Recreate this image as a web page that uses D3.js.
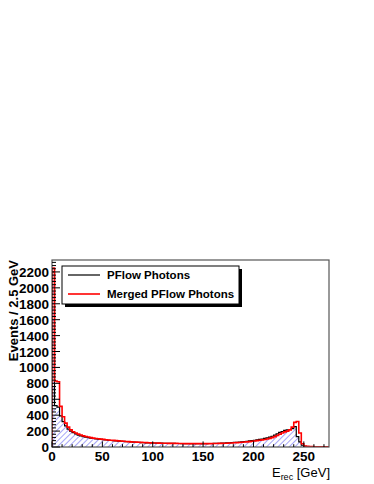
<!DOCTYPE html>
<html>
  <head>
    <meta charset="utf-8">
    <title></title>
    <style>
      body {
        margin: 0;
        background: #fff;
        font-family: "Liberation Sans", Arial, sans-serif;
      }
      svg {
        display: block;
      }
      .lbl {
        font-size: 13.5px;
        font-weight: bold;
      }
    </style>
  </head>
  <body>
    <div class="chart"></div>
    <script src="https://cdn.jsdelivr.net/npm/d3@7"></script>
    <script>

      // 2.5 GeV bins from 0 to 275 GeV
      let binWidth = 2.5;

      let pflowPhotons = [
        2200, 520, 500, 390, 320, 265, 225, 200, 180, 165,
        150, 140, 130, 124, 118, 112, 107, 102, 98, 95,
        92, 88, 85, 82, 80, 77, 74, 72, 70, 68,
        66, 63, 61, 60, 58, 56, 55, 53, 52, 51,
        50, 49, 48, 48, 47, 46, 46, 45, 45, 44,
        44, 43, 44, 43, 42, 43, 42, 42, 43, 42,
        43, 43, 44, 44, 45, 46, 47, 48, 50, 51,
        53, 55, 57, 60, 62, 65, 68, 72, 76, 80,
        85, 90, 95, 100, 108, 115, 125, 135, 150, 165,
        185, 195, 210, 215, 220, 230, 255, 130, 65, 22,
        8, 4, 3, 2, 2, 1, 1, 1, 0, 0
      ];

      let mergedPhotons = [
        2250, 830, 820, 510, 380, 300, 250, 215, 192, 176,
        162, 150, 140, 132, 125, 118, 112, 107, 103, 99,
        96, 92, 88, 85, 83, 80, 77, 75, 72, 70,
        68, 65, 63, 61, 60, 58, 56, 55, 53, 52,
        51, 50, 49, 48, 48, 47, 46, 46, 45, 45,
        44, 44, 43, 43, 43, 42, 42, 42, 42, 42,
        42, 42, 43, 43, 44, 44, 45, 46, 47, 48,
        50, 51, 53, 55, 57, 59, 62, 65, 68, 72,
        76, 80, 84, 89, 95, 101, 108, 118, 130, 145,
        160, 175, 190, 200, 215, 250, 310, 320, 175, 40,
        12, 8, 6, 5, 4, 3, 3, 2, 2, 2
      ];

      let legendLabels = ["PFlow Photons", "Merged PFlow Photons"];
      let xTicks = [0, 50, 100, 150, 200, 250];
      let yTicks = [0, 200, 400, 600, 800, 1000, 1200, 1400, 1600, 1800, 2000, 2200];

      let W = 374, H = 484;
      let frame = {left: 52, right: 329, top: 260, bottom: 447};

      let svg = d3.select('.chart').append('svg')
        .attr('width', W)
        .attr('height', H);

      let x = d3.scaleLinear()
        .domain([0, 275])
        .range([frame.left, frame.right]);

      let y = d3.scaleLinear()
        .domain([0, 2350])
        .range([frame.bottom, frame.top]);

      let defs = svg.append('defs');
      let pat = defs.append('pattern')
        .attr('id', 'hatch')
        .attr('patternUnits', 'userSpaceOnUse')
        .attr('width', 4)
        .attr('height', 4)
        .attr('patternTransform', 'rotate(45)');
      pat.append('line')
        .attr('x1', 0).attr('y1', 0)
        .attr('x2', 0).attr('y2', 4)
        .attr('stroke', '#3535ee')
        .attr('stroke-width', 0.9);

      defs.append('clipPath').attr('id', 'clip')
        .append('rect')
        .attr('x', frame.left).attr('y', frame.top)
        .attr('width', frame.right - frame.left)
        .attr('height', frame.bottom - frame.top);

      function steps(values) {
        let pts = [[0, 0]];
        values.forEach(function(v, i) {
          pts.push([i * binWidth, v]);
          pts.push([(i + 1) * binWidth, v]);
        });
        pts.push([values.length * binWidth, 0]);
        return pts;
      }

      let line = d3.line()
        .x(function(d) { return x(d[0]); })
        .y(function(d) { return y(d[1]); });

      let area = d3.area()
        .x(function(d) { return x(d[0]); })
        .y0(y(0))
        .y1(function(d) { return y(d[1]); });

      let g = svg.append('g').attr('clip-path', 'url(#clip)');

      g.append('path')
        .datum(steps(pflowPhotons))
        .attr('fill', 'url(#hatch)')
        .attr('d', area);

      g.append('path')
        .datum(steps(pflowPhotons))
        .attr('fill', 'none')
        .attr('stroke', '#000')
        .attr('stroke-width', 1.2)
        .attr('d', line);

      g.append('path')
        .datum(steps(mergedPhotons))
        .attr('fill', 'none')
        .attr('stroke', '#ff0000')
        .attr('stroke-width', 1.6)
        .attr('d', line);

      // frame
      svg.append('rect')
        .attr('x', frame.left).attr('y', frame.top)
        .attr('width', frame.right - frame.left)
        .attr('height', frame.bottom - frame.top)
        .attr('fill', 'none')
        .attr('stroke', '#555')
        .attr('stroke-width', 1.2);

      // x axis ticks (inside the frame)
      let xMinor = d3.range(0, 276, 10);
      svg.append('g').selectAll('line')
        .data(xMinor)
        .join('line')
        .attr('x1', function(d) { return x(d); })
        .attr('x2', function(d) { return x(d); })
        .attr('y1', frame.bottom)
        .attr('y2', function(d) { return frame.bottom - (d % 50 === 0 ? 5.6 : 2.8); })
        .attr('stroke', '#000');

      svg.append('g').selectAll('text')
        .data(xTicks)
        .join('text')
        .attr('class', 'lbl')
        .attr('x', function(d) { return x(d); })
        .attr('y', 461)
        .attr('text-anchor', 'middle')
        .text(function(d) { return d; });

      // y axis ticks
      let yMinor = d3.range(0, 2351, 40);
      svg.append('g').selectAll('line')
        .data(yMinor)
        .join('line')
        .attr('y1', function(d) { return y(d); })
        .attr('y2', function(d) { return y(d); })
        .attr('x1', frame.left)
        .attr('x2', function(d) { return frame.left + (d % 200 === 0 ? 8 : 4); })
        .attr('stroke', '#000');

      svg.append('g').selectAll('text')
        .data(yTicks)
        .join('text')
        .attr('class', 'lbl')
        .attr('x', 49)
        .attr('y', function(d) { return y(d) + 5; })
        .attr('text-anchor', 'end')
        .text(function(d) { return d; });

      // axis titles
      svg.append('text')
        .attr('transform', 'translate(18,' + frame.top + ') rotate(-90)')
        .attr('text-anchor', 'end')
        .style('font-size', '13px')
        .style('font-weight', 'bold')
        .text('Events / 2.5 GeV');

      let xt = svg.append('text')
        .attr('x', frame.right + 1)
        .attr('y', 477)
        .attr('text-anchor', 'end')
        .style('font-size', '13px');
      xt.append('tspan').text('E');
      xt.append('tspan').attr('dy', 3).style('font-size', '9px').text('rec');
      xt.append('tspan').attr('dy', -3).text(' [GeV]');

      // legend with shadow
      let leg = {x: 62, y: 266, w: 177, h: 38};
      svg.append('rect')
        .attr('x', leg.x + 3).attr('y', leg.y + 3)
        .attr('width', leg.w).attr('height', leg.h)
        .attr('fill', '#000');
      svg.append('rect')
        .attr('x', leg.x).attr('y', leg.y)
        .attr('width', leg.w).attr('height', leg.h)
        .attr('fill', '#fff')
        .attr('stroke', '#000')
        .attr('stroke-width', 1);

      let legColors = ['#000', '#ff0000'];
      legendLabels.forEach(function(label, i) {
        let cy = 275 + i * 19;
        svg.append('line')
          .attr('x1', 68).attr('x2', 100)
          .attr('y1', cy).attr('y2', cy)
          .attr('stroke', legColors[i])
          .attr('stroke-width', i ? 1.6 : 1.2);
        svg.append('text')
          .attr('x', 107)
          .attr('y', cy + 4)
          .style('font-size', '11.5px')
          .style('font-weight', 'bold')
          .text(label);
      });

    </script>
  </body>
</html>
